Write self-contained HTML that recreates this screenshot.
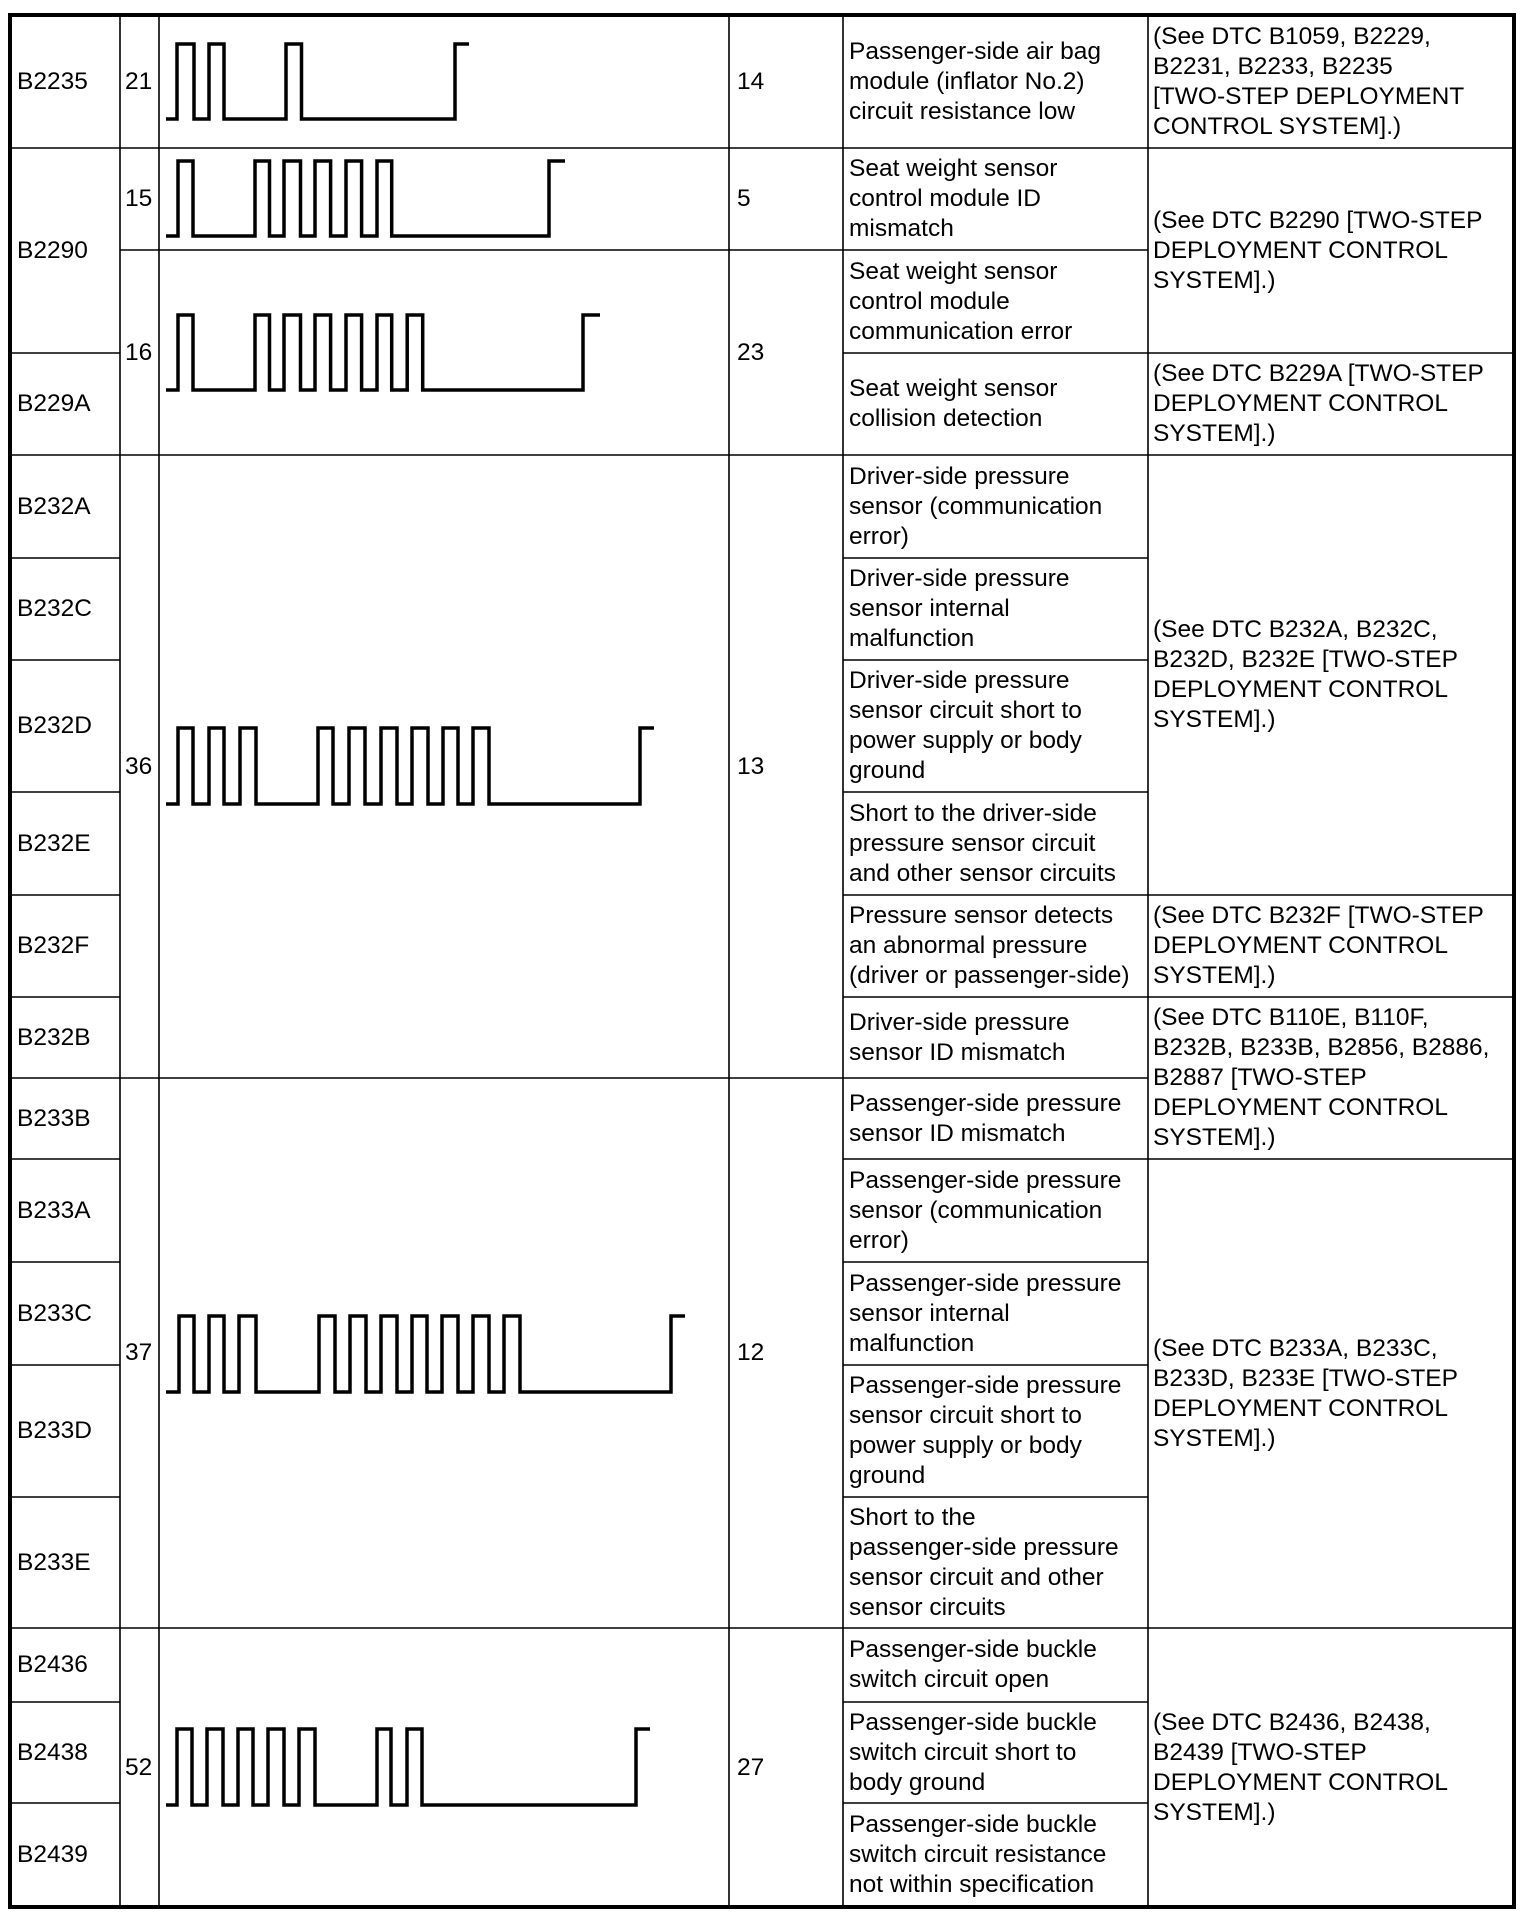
<!DOCTYPE html>
<html><head><meta charset="utf-8"><style>
html,body{margin:0;padding:0;background:#fff;}
body{width:1526px;height:1918px;position:relative;overflow:hidden;font-family:"Liberation Sans",Arial,sans-serif;color:#000;}
.c{position:absolute;display:flex;align-items:center;font-size:24.5px;line-height:30px;white-space:nowrap;box-sizing:border-box;}
.a{left:10px;width:110px;padding-left:7px;}
.b{left:120px;width:39px;padding-left:5px;}
.n{left:729px;width:114px;padding-left:8px;}
.d{left:843px;width:305px;padding-left:6px;}
.e{left:1148px;width:366px;padding-left:5px;}
svg{position:absolute;left:0;top:0;}
</style></head><body>
<svg width="1526" height="1918" viewBox="0 0 1526 1918">
<g stroke="#000" stroke-width="1.6" fill="none">
<line x1="120" y1="15" x2="120" y2="1907"/>
<line x1="159" y1="15" x2="159" y2="1907"/>
<line x1="729" y1="15" x2="729" y2="1907"/>
<line x1="843" y1="15" x2="843" y2="1907"/>
<line x1="1148" y1="15" x2="1148" y2="1907"/>
<line x1="10" y1="148" x2="1514" y2="148"/>
<line x1="120" y1="250" x2="1148" y2="250"/>
<line x1="10" y1="353" x2="120" y2="353"/><line x1="843" y1="353" x2="1514" y2="353"/>
<line x1="10" y1="455" x2="1514" y2="455"/>
<line x1="10" y1="558" x2="120" y2="558"/><line x1="843" y1="558" x2="1148" y2="558"/>
<line x1="10" y1="660" x2="120" y2="660"/><line x1="843" y1="660" x2="1148" y2="660"/>
<line x1="10" y1="792" x2="120" y2="792"/><line x1="843" y1="792" x2="1148" y2="792"/>
<line x1="10" y1="895" x2="120" y2="895"/><line x1="843" y1="895" x2="1514" y2="895"/>
<line x1="10" y1="997" x2="120" y2="997"/><line x1="843" y1="997" x2="1514" y2="997"/>
<line x1="10" y1="1078" x2="1148" y2="1078"/>
<line x1="10" y1="1159" x2="120" y2="1159"/><line x1="843" y1="1159" x2="1514" y2="1159"/>
<line x1="10" y1="1262" x2="120" y2="1262"/><line x1="843" y1="1262" x2="1148" y2="1262"/>
<line x1="10" y1="1365" x2="120" y2="1365"/><line x1="843" y1="1365" x2="1148" y2="1365"/>
<line x1="10" y1="1497" x2="120" y2="1497"/><line x1="843" y1="1497" x2="1148" y2="1497"/>
<line x1="10" y1="1628" x2="1514" y2="1628"/>
<line x1="10" y1="1702" x2="120" y2="1702"/><line x1="843" y1="1702" x2="1148" y2="1702"/>
<line x1="10" y1="1803" x2="120" y2="1803"/><line x1="843" y1="1803" x2="1148" y2="1803"/>
</g>
<rect x="10" y="15" width="1504" height="1892" fill="none" stroke="#000" stroke-width="4"/>
<g stroke="#000" stroke-width="3.5" fill="none" stroke-linejoin="miter">
<polyline points="166,119 177,119 177,44 194,44 194,119 209,119 209,44 224,44 224,119 286,119 286,44 301.5,44 301.5,119 455,119 455,44 469,44"/>
<polyline points="166,236 178,236 178,161 193,161 193,236 255,236 255,161 269.5,161 269.5,236 284,236 284,161 300.5,161 300.5,236 315,236 315,161 330.6,161 330.6,236 346,236 346,161 361.6,161 361.6,236 377,236 377,161 391.7,161 391.7,236 549,236 549,161 565,161"/>
<polyline points="166,390 178,390 178,315 193,315 193,390 255,390 255,315 269.5,315 269.5,390 284,390 284,315 300.5,315 300.5,390 315,390 315,315 330.6,315 330.6,390 346,390 346,315 361.6,315 361.6,390 377,390 377,315 391.7,315 391.7,390 407.2,390 407.2,315 422.7,315 422.7,390 583,390 583,315 600,315"/>
<polyline points="166,804 178,804 178,728 193,728 193,804 209,804 209,728 224,728 224,804 240,804 240,728 256,728 256,804 318,804 318,728 333,728 333,804 349,804 349,728 365,728 365,804 381,804 381,728 397,728 397,804 412,804 412,728 428,728 428,804 443,804 443,728 458,728 458,804 473,804 473,728 489,728 489,804 640,804 640,728 654,728"/>
<polyline points="166,1392 179,1392 179,1316 194,1316 194,1392 209,1392 209,1316 224,1316 224,1392 239,1392 239,1316 256,1316 256,1392 319,1392 319,1316 335,1316 335,1392 350,1392 350,1316 366,1316 366,1392 381,1392 381,1316 397,1316 397,1392 412,1392 412,1316 427,1316 427,1392 442,1392 442,1316 458,1316 458,1392 473,1392 473,1316 489,1316 489,1392 504,1392 504,1316 520,1316 520,1392 671,1392 671,1316 685,1316"/>
<polyline points="166,1805 177,1805 177,1729 192,1729 192,1805 207,1805 207,1729 223,1729 223,1805 238,1805 238,1729 253,1729 253,1805 268,1805 268,1729 284,1729 284,1805 299,1805 299,1729 315,1729 315,1805 377,1805 377,1729 391,1729 391,1805 407,1805 407,1729 422,1729 422,1805 636,1805 636,1729 650,1729"/>
</g>
</svg>

<div class="c a" style="top:15px;height:133px">B2235</div>
<div class="c a" style="top:148px;height:205px">B2290</div>
<div class="c a" style="top:353px;height:102px">B229A</div>
<div class="c a" style="top:455px;height:103px">B232A</div>
<div class="c a" style="top:558px;height:102px">B232C</div>
<div class="c a" style="top:660px;height:132px">B232D</div>
<div class="c a" style="top:792px;height:103px">B232E</div>
<div class="c a" style="top:895px;height:102px">B232F</div>
<div class="c a" style="top:997px;height:81px">B232B</div>
<div class="c a" style="top:1078px;height:81px">B233B</div>
<div class="c a" style="top:1159px;height:103px">B233A</div>
<div class="c a" style="top:1262px;height:103px">B233C</div>
<div class="c a" style="top:1365px;height:132px">B233D</div>
<div class="c a" style="top:1497px;height:131px">B233E</div>
<div class="c a" style="top:1628px;height:74px">B2436</div>
<div class="c a" style="top:1702px;height:101px">B2438</div>
<div class="c a" style="top:1803px;height:104px">B2439</div>

<div class="c b" style="top:15px;height:133px">21</div>
<div class="c b" style="top:148px;height:102px">15</div>
<div class="c b" style="top:250px;height:205px">16</div>
<div class="c b" style="top:455px;height:623px">36</div>
<div class="c b" style="top:1078px;height:550px">37</div>
<div class="c b" style="top:1628px;height:279px">52</div>

<div class="c n" style="top:15px;height:133px">14</div>
<div class="c n" style="top:148px;height:102px">5</div>
<div class="c n" style="top:250px;height:205px">23</div>
<div class="c n" style="top:455px;height:623px">13</div>
<div class="c n" style="top:1078px;height:550px">12</div>
<div class="c n" style="top:1628px;height:279px">27</div>

<div class="c d" style="top:15px;height:133px"><div>Passenger-side air bag<br>module (inflator No.2)<br>circuit resistance low</div></div>
<div class="c d" style="top:148px;height:102px"><div>Seat weight sensor<br>control module ID<br>mismatch</div></div>
<div class="c d" style="top:250px;height:103px"><div>Seat weight sensor<br>control module<br>communication error</div></div>
<div class="c d" style="top:353px;height:102px"><div>Seat weight sensor<br>collision detection</div></div>
<div class="c d" style="top:455px;height:103px"><div>Driver-side pressure<br>sensor (communication<br>error)</div></div>
<div class="c d" style="top:558px;height:102px"><div>Driver-side pressure<br>sensor internal<br>malfunction</div></div>
<div class="c d" style="top:660px;height:132px"><div>Driver-side pressure<br>sensor circuit short to<br>power supply or body<br>ground</div></div>
<div class="c d" style="top:792px;height:103px"><div>Short to the driver-side<br>pressure sensor circuit<br>and other sensor circuits</div></div>
<div class="c d" style="top:895px;height:102px"><div>Pressure sensor detects<br>an abnormal pressure<br>(driver or passenger-side)</div></div>
<div class="c d" style="top:997px;height:81px"><div>Driver-side pressure<br>sensor ID mismatch</div></div>
<div class="c d" style="top:1078px;height:81px"><div>Passenger-side pressure<br>sensor ID mismatch</div></div>
<div class="c d" style="top:1159px;height:103px"><div>Passenger-side pressure<br>sensor (communication<br>error)</div></div>
<div class="c d" style="top:1262px;height:103px"><div>Passenger-side pressure<br>sensor internal<br>malfunction</div></div>
<div class="c d" style="top:1365px;height:132px"><div>Passenger-side pressure<br>sensor circuit short to<br>power supply or body<br>ground</div></div>
<div class="c d" style="top:1497px;height:131px"><div>Short to the<br>passenger-side pressure<br>sensor circuit and other<br>sensor circuits</div></div>
<div class="c d" style="top:1628px;height:74px"><div>Passenger-side buckle<br>switch circuit open</div></div>
<div class="c d" style="top:1702px;height:101px"><div>Passenger-side buckle<br>switch circuit short to<br>body ground</div></div>
<div class="c d" style="top:1803px;height:104px"><div>Passenger-side buckle<br>switch circuit resistance<br>not within specification</div></div>

<div class="c e" style="top:15px;height:133px"><div>(See DTC B1059, B2229,<br>B2231, B2233, B2235<br>[TWO-STEP DEPLOYMENT<br>CONTROL SYSTEM].)</div></div>
<div class="c e" style="top:148px;height:205px"><div>(See DTC B2290 [TWO-STEP<br>DEPLOYMENT CONTROL<br>SYSTEM].)</div></div>
<div class="c e" style="top:353px;height:102px"><div>(See DTC B229A [TWO-STEP<br>DEPLOYMENT CONTROL<br>SYSTEM].)</div></div>
<div class="c e" style="top:455px;height:440px"><div>(See DTC B232A, B232C,<br>B232D, B232E [TWO-STEP<br>DEPLOYMENT CONTROL<br>SYSTEM].)</div></div>
<div class="c e" style="top:895px;height:102px"><div>(See DTC B232F [TWO-STEP<br>DEPLOYMENT CONTROL<br>SYSTEM].)</div></div>
<div class="c e" style="top:997px;height:162px"><div>(See DTC B110E, B110F,<br>B232B, B233B, B2856, B2886,<br>B2887 [TWO-STEP<br>DEPLOYMENT CONTROL<br>SYSTEM].)</div></div>
<div class="c e" style="top:1159px;height:469px"><div>(See DTC B233A, B233C,<br>B233D, B233E [TWO-STEP<br>DEPLOYMENT CONTROL<br>SYSTEM].)</div></div>
<div class="c e" style="top:1628px;height:279px"><div>(See DTC B2436, B2438,<br>B2439 [TWO-STEP<br>DEPLOYMENT CONTROL<br>SYSTEM].)</div></div>
</body></html>
